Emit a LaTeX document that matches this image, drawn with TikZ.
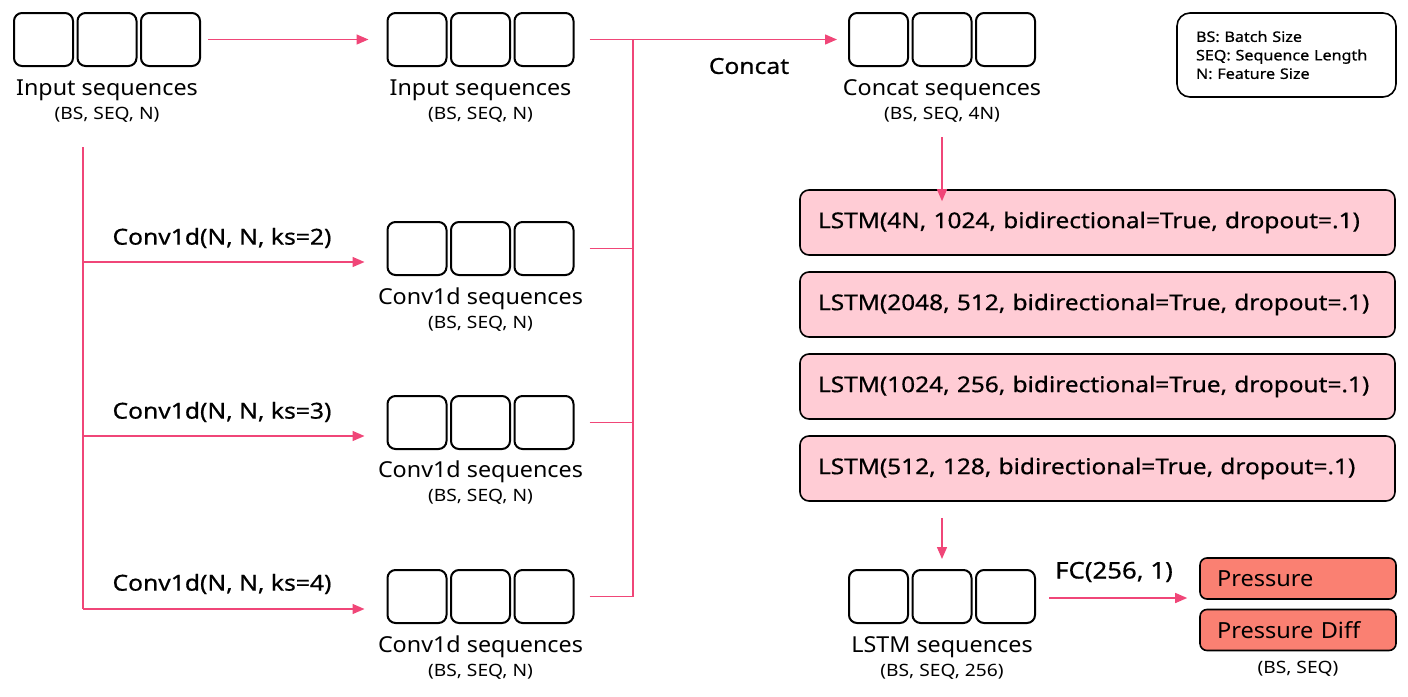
\documentclass[tikz,border=0pt]{standalone}
\usepackage{fontspec}
\setmainfont[FakeStretch=1.06]{Noto Sans}
\newfontfamily\subfont[FakeStretch=1.13]{Noto Sans}
\newfontfamily\mfont[FakeBold=0.6,FakeStretch=1.12]{Noto Sans}
\usetikzlibrary{arrows.meta}
\definecolor{linepink}{RGB}{240,70,120}
\definecolor{lstmfill}{RGB}{255,204,213}
\definecolor{outfill}{RGB}{250,128,114}
\tikzset{
  cell/.style={draw=black, line width=2pt, rounded corners=8pt, minimum width=59pt, minimum height=53pt, inner sep=0pt},
  arr/.style={draw=linepink, line width=1.4pt, -{Triangle[length=12pt,width=10pt]}},
  ln/.style={draw=linepink, line width=1.4pt},
  lbl/.style={font=\fontsize{22}{24}\selectfont, inner sep=0pt},
  sub/.style={font=\subfont\fontsize{17}{19}\selectfont, inner sep=0pt},
  oplbl/.style={font=\mfont\fontsize{22}{24}\selectfont, inner sep=0pt},
  lstmbox/.style={draw=black, line width=1.6pt, rounded corners=9pt, fill=lstmfill, minimum width=595pt, minimum height=65pt, inner xsep=18pt, text width=559pt, align=left, font=\mfont\fontsize{21.8}{24}\selectfont},
  outbox/.style={draw=black, line width=1.6pt, rounded corners=7pt, fill=outfill, minimum width=196pt, minimum height=41pt, inner xsep=17pt, text width=162pt, align=left, font=\fontsize{22.2}{24}\selectfont},
  legend/.style={draw=black, line width=1.6pt, rounded corners=13pt, minimum width=219pt, minimum height=84pt, inner xsep=19pt, text width=181pt, align=left, font=\mfont\fontsize{14.4}{18.5}\selectfont}
}
\newcommand{\seqblock}[3]{%
  \node[cell] (#1-a) at (#2-63.5,#3) {};
  \node[cell] (#1-b) at (#2,#3) {};
  \node[cell] (#1-c) at (#2+63.5,#3) {};
}
\begin{document}
\begin{tikzpicture}[x=1pt,y=-1pt]
\useasboundingbox (0,0) rectangle (1408,696);
% blocks
\seqblock{inp}{107}{39.5}
\seqblock{inq}{480.5}{39.5}
\seqblock{cat}{942}{39.5}
\seqblock{cva}{480.5}{248.5}
\seqblock{cvb}{480.5}{422.5}
\seqblock{cvc}{480.5}{596.5}
\seqblock{lsq}{942}{596.5}
% labels
\node[lbl] (inpL) at (107,90) {Input sequences};
\node[sub] (inpS) at (107,115) {(BS, SEQ, N)};
\node[lbl] (inqL) at (480.5,90) {Input sequences};
\node[sub] (inqS) at (480.5,115) {(BS, SEQ, N)};
\node[lbl] (catL) at (942,90) {Concat sequences};
\node[sub] (catS) at (942,115) {(BS, SEQ, 4N)};
\node[lbl] (cvaL) at (480.5,299) {Conv1d sequences};
\node[sub] (cvaS) at (480.5,324) {(BS, SEQ, N)};
\node[lbl] (cvbL) at (480.5,472) {Conv1d sequences};
\node[sub] (cvbS) at (480.5,497) {(BS, SEQ, N)};
\node[lbl] (cvcL) at (480.5,647) {Conv1d sequences};
\node[sub] (cvcS) at (480.5,672) {(BS, SEQ, N)};
\node[lbl] (lsqL) at (942,647) {LSTM sequences};
\node[sub] (lsqS) at (942,672) {(BS, SEQ, 256)};
% op labels
\node[oplbl] (concatT) at (749,66) {Concat};
\node[oplbl] (k2) at (222,238) {Conv1d(N, N, ks=2)};
\node[oplbl] (k3) at (222,412) {Conv1d(N, N, ks=3)};
\node[oplbl] (k4) at (222,584) {Conv1d(N, N, ks=4)};
\node[oplbl, font=\mfont\fontsize{23}{24}\selectfont] (fc) at (1114,572) {FC(256, 1)};
% LSTM stack
\node[lstmbox] (l1) at (1097.5,222.5) {LSTM(4N, 1024, bidirectional=True, dropout=.1)};
\node[lstmbox] (l2) at (1097.5,304.5) {LSTM(2048, 512, bidirectional=True, dropout=.1)};
\node[lstmbox] (l3) at (1097.5,386.5) {LSTM(1024, 256, bidirectional=True, dropout=.1)};
\node[lstmbox] (l4) at (1097.5,468.5) {LSTM(512, 128, bidirectional=True, dropout=.1)};
% outputs
\node[outbox] (p1) at (1298,578.5) {Pressure};
\node[outbox] (p2) at (1298,630) {Pressure Diff};
\node[sub] (pS) at (1298,669) {(BS, SEQ)};
% legend
\node[legend] (leg) at (1286.5,55) {BS: Batch Size\\SEQ: Sequence Length\\N: Feature Size};
% coordinates
\coordinate (jx) at (633,39.5);
\coordinate (jc) at (633,596.5);
\coordinate (lt) at (83,147);
\coordinate (lb) at (83,609);
% connectors
\draw[arr] ([xshift=7pt]inp-c.east) -- ([xshift=-18pt]inq-a.west);
\draw[arr] ([xshift=15pt]inq-c.east) -- ([xshift=-11pt]cat-a.west);
\draw[ln] (jx) -- (jc);
\draw[ln] ([xshift=15pt]cva-c.east) -- (cva-c.east -| jx);
\draw[ln] ([xshift=15pt]cvb-c.east) -- (cvb-c.east -| jx);
\draw[ln] ([xshift=15pt]cvc-c.east) -- (jc);
\draw[ln] (lt) -- (lb);
\draw[arr] (lt |- 0,262) -- ([xshift=-22pt]cva-a.west |- 0,262);
\draw[arr] (lt |- 0,436) -- ([xshift=-22pt]cvb-a.west |- 0,436);
\draw[arr] (lb) -- ([xshift=-22pt]cvc-a.west |- lb);
\draw[arr] (942,137) -- ([yshift=-12pt]l1.north -| catS);
\draw[arr] ([yshift=-16pt]l4.south -| lsq-b) -- ([yshift=10pt]lsq-b.north);
\draw[arr] ([xshift=13pt]lsq-c.east |- 0,598) -- ([xshift=-12pt]p1.west |- 0,598);
\end{tikzpicture}
\end{document}
